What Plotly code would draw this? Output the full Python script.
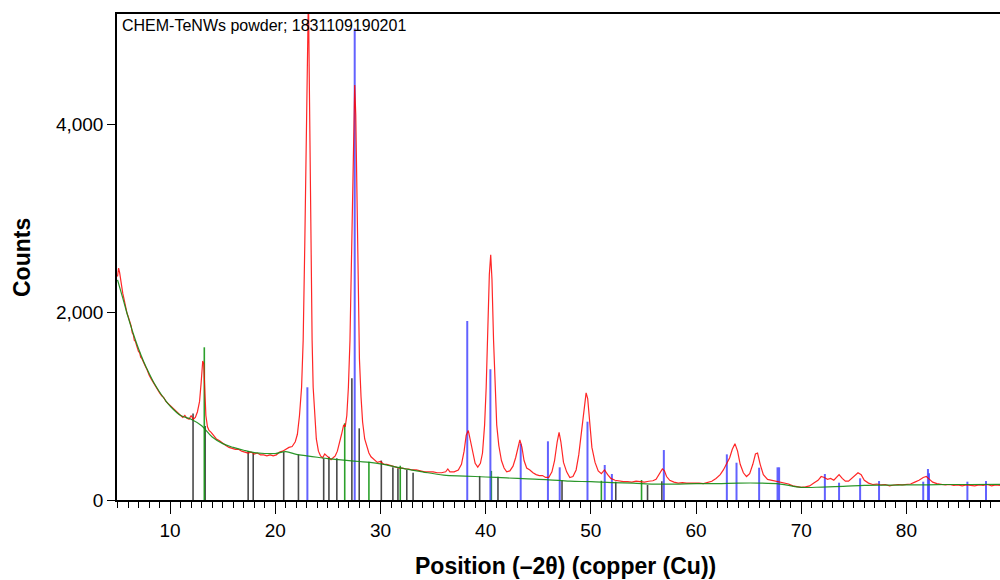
import plotly.graph_objects as go

# ---- measured pattern (red) ----
two_theta = [5.00, 5.10, 5.20, 5.30, 5.40, 5.50, 5.60, 5.70, 5.80, 5.90, 6.00, 6.10, 6.20, 6.30, 6.40, 6.50,
             6.60, 6.70, 6.80, 6.90, 7.00, 7.10, 7.20, 7.30, 7.40, 7.50, 7.60, 7.70, 7.80, 7.90, 8.00, 8.20,
             8.40, 8.60, 8.80, 9.00, 9.20, 9.40, 9.60, 9.80, 10.00, 10.20, 10.40, 10.60, 10.80, 11.00, 11.20,
             11.40, 11.60, 11.80, 12.00, 12.20, 12.40, 12.60, 12.80, 12.95, 13.10, 13.20, 13.30, 13.40, 13.55,
             13.70, 13.90, 14.10, 14.40, 14.70, 15.00, 15.30, 15.60, 15.90, 16.20, 16.50, 16.80, 17.10, 17.40,
             17.70, 18.00, 18.30, 18.60, 18.90, 19.20, 19.50, 19.80, 20.10, 20.40, 20.70, 21.00, 21.30, 21.60,
             21.90, 22.10, 22.30, 22.50, 22.65, 22.80, 22.90, 23.00, 23.08, 23.15, 23.22, 23.30, 23.40, 23.50,
             23.60, 23.75, 23.90, 24.10, 24.30, 24.50, 24.70, 24.90, 25.10, 25.30, 25.50, 25.70, 25.90, 26.10,
             26.30, 26.50, 26.65, 26.80, 26.95, 27.10, 27.25, 27.40, 27.50, 27.55, 27.65, 27.75, 27.85, 28.00,
             28.15, 28.30, 28.50, 28.70, 28.90, 29.10, 29.40, 29.70, 30.00, 30.30, 30.60, 30.90, 31.20, 31.50,
             31.80, 32.10, 32.40, 32.70, 33.00, 33.40, 33.80, 34.20, 34.60, 35.00, 35.40, 35.80, 36.20, 36.40,
             36.60, 37.00, 37.40, 37.70, 37.95, 38.15, 38.35, 38.55, 38.80, 39.00, 39.25, 39.50, 39.70, 39.90,
             40.05, 40.20, 40.35, 40.48, 40.60, 40.75, 40.90, 41.05, 41.25, 41.50, 41.75, 42.00, 42.30, 42.60,
             42.85, 43.05, 43.25, 43.45, 43.65, 43.90, 44.20, 44.50, 44.80, 45.10, 45.40, 45.70, 46.00, 46.30,
             46.55, 46.80, 46.98, 47.15, 47.40, 47.70, 48.00, 48.30, 48.60, 48.85, 49.10, 49.35, 49.55, 49.70,
             49.90, 50.10, 50.40, 50.70, 51.00, 51.30, 51.60, 51.90, 52.30, 52.70, 53.10, 53.50, 53.90, 54.30,
             54.70, 55.10, 55.50, 55.90, 56.20, 56.50, 56.80, 57.00, 57.20, 57.50, 57.90, 58.30, 58.70, 59.10,
             59.50, 59.90, 60.30, 60.70, 61.10, 61.50, 61.90, 62.30, 62.60, 62.90, 63.20, 63.45, 63.70, 63.95,
             64.20, 64.50, 64.80, 65.10, 65.40, 65.65, 65.85, 66.10, 66.40, 66.80, 67.20, 67.60, 68.00, 68.40,
             68.80, 69.20, 69.60, 70.00, 70.40, 70.80, 71.20, 71.60, 71.90, 72.20, 72.50, 72.80, 73.10, 73.40,
             73.60, 73.90, 74.20, 74.50, 74.80, 75.10, 75.40, 75.70, 76.00, 76.40, 76.80, 77.20, 77.60, 78.00,
             78.40, 78.80, 79.20, 79.60, 80.00, 80.40, 80.80, 81.20, 81.60, 81.90, 82.20, 82.50, 82.90, 83.30,
             83.70, 84.10, 84.50, 84.90, 85.30, 85.70, 86.10, 86.50, 86.90, 87.30, 87.70, 88.10, 88.50, 88.90]
counts = [2380, 2470, 2420, 2330, 2260, 2200, 2150, 2090, 2060, 1990, 1960, 1930, 1880, 1850, 1780, 1760,
          1700, 1690, 1650, 1610, 1580, 1570, 1520, 1510, 1480, 1460, 1430, 1410, 1390, 1350, 1330, 1290,
          1250, 1210, 1180, 1140, 1110, 1090, 1050, 1030, 1000, 990, 970, 950, 930, 910, 880,
          900, 870, 860, 900, 860, 880, 940, 1050, 1250, 1480, 1450, 1150, 900, 780,
          740, 720, 690, 650, 630, 600, 580, 560, 550, 540, 540, 520, 510, 500,
          510, 490, 500, 480, 480, 470, 480, 470, 480, 510, 520, 540, 560, 570,
          620, 700, 900, 1200, 1700, 2700, 3700, 4800, 5400, 5400, 4600, 3600, 2400, 1700,
          1200, 850, 650, 520, 470, 450, 490, 470, 450, 430, 450, 470, 520, 600,
          700, 800, 780, 900, 1200, 1700, 2600, 3700, 4300, 4420, 4100, 3200, 2300, 1500,
          1100, 830, 650, 560, 500, 460, 430, 400, 410, 380, 380, 370, 360, 350,
          340, 340, 330, 330, 320, 320, 310, 300, 300, 300, 290, 290, 300, 330,
          300, 300, 320, 380, 520, 690, 740, 640, 480, 390, 350, 390, 500, 800,
          1200, 1800, 2400, 2610, 2350, 1700, 1150, 800, 580, 420, 340, 300, 310, 360,
          450, 560, 640, 560, 420, 340, 320, 290, 270, 260, 260, 240, 240, 300,
          420, 620, 720, 620, 400, 300, 240, 250, 320, 480, 700, 950, 1140, 1080,
          800, 560, 400, 310, 280, 320, 270, 230, 210, 200, 195, 195, 190, 200,
          195, 190, 200, 205, 220, 270, 330, 310, 250, 210, 190, 180, 185, 180,
          180, 185, 180, 175, 185, 200, 230, 270, 320, 390, 450, 540, 600, 520,
          380, 290, 250, 280, 380, 490, 500, 380, 270, 220, 210, 200, 195, 180,
          170, 150, 140, 135, 140, 150, 180, 210, 250, 240, 220, 230, 210, 250,
          270, 230, 200, 200, 230, 260, 290, 270, 210, 180, 165, 170, 160, 165,
          150, 160, 165, 160, 165, 170, 190, 210, 240, 250, 220, 190, 175, 170,
          160, 165, 155, 160, 150, 160, 155, 150, 160, 155, 165, 150, 160, 155]

# ---- fitted background (green line) ----
bg_x = [5.0, 5.5, 6.0, 6.5, 7.0, 7.5, 8.0, 8.5, 9.0, 9.5, 10.0, 11.0, 12.0, 13.0, 14.0, 15.0, 16.0, 17.0,
        18.0, 19.0, 20.0, 21.0, 22.0, 23.0, 24.0, 25.0, 26.0, 27.0, 28.0, 29.0, 30.0, 32.0, 34.0, 36.0,
        38.0, 40.0, 42.0, 44.0, 46.0, 48.0, 50.0, 52.0, 54.0, 56.0, 58.0, 60.0, 62.0, 64.0, 66.0, 68.0,
        70.0, 72.0, 74.0, 76.0, 78.0, 80.0, 82.0, 84.0, 86.0, 88.9]
bg_y = [2343, 2150, 1950, 1770, 1610, 1470, 1350, 1240, 1150, 1070, 1000, 900, 860, 790, 670, 600, 560, 530,
        505, 495, 495, 515, 485, 470, 455, 440, 430, 420, 410, 400, 385, 340, 300, 265,
        255, 245, 235, 225, 215, 200, 195, 185, 180, 170, 170, 175, 175, 180, 180, 170,
        135, 138, 145, 155, 158, 160, 162, 165, 165, 167]

# ---- reference patterns (sticks) ----
te_pos = [23.05, 27.55, 38.25, 40.45, 43.33, 45.92, 47.04, 49.68, 51.32, 52.0, 56.94, 62.93, 63.85,
          66.0, 67.75, 67.9, 72.25, 73.6, 75.6, 77.4, 81.6, 82.05, 82.15, 85.8, 87.57]
te_int = [1200, 5020, 1906, 1392, 600, 625, 348, 834, 373, 277, 532, 486, 397,
          344, 348, 348, 277, 184, 231, 202, 195, 330, 284, 195, 202]

ph2_pos = [12.18, 13.33, 17.42, 17.9, 20.8, 22.2, 24.6, 25.1, 25.85, 27.28, 27.98, 30.08, 31.18, 31.66,
           32.5, 33.1, 39.43, 41.17, 47.26, 52.37, 55.39, 56.75]
ph2_int = [920, 788, 522, 497, 510, 485, 444, 461, 444, 1296, 763, 420, 350, 338,
           320, 291, 256, 248, 213, 195, 160, 200]

ph3_pos = [13.25, 26.6, 28.9, 31.88, 40.54, 51.0, 54.82]
ph3_int = [1626, 817, 408, 365, 310, 205, 213]


def sticks(pos, inten):
    xs, ys = [], []
    for p, h in zip(pos, inten):
        xs += [p, p, None]
        ys += [0, h, None]
    return xs, ys


fig = go.Figure()

sx, sy = sticks(ph2_pos, ph2_int)
fig.add_trace(go.Scatter(x=sx, y=sy, mode="lines", line=dict(color="rgba(40,40,40,0.85)", width=1.6),
                         hoverinfo="skip", showlegend=False))
sx, sy = sticks(ph3_pos, ph3_int)
fig.add_trace(go.Scatter(x=sx, y=sy, mode="lines", line=dict(color="rgba(20,150,20,0.9)", width=1.6),
                         hoverinfo="skip", showlegend=False))
sx, sy = sticks(te_pos, te_int)
fig.add_trace(go.Scatter(x=sx, y=sy, mode="lines", line=dict(color="rgba(70,70,255,0.85)", width=2),
                         hoverinfo="skip", showlegend=False))

fig.add_trace(go.Scatter(x=two_theta, y=counts, mode="lines",
                         line=dict(color="rgba(255,0,0,0.85)", width=1.2), showlegend=False))
fig.add_trace(go.Scatter(x=bg_x, y=bg_y, mode="lines", line_shape="spline",
                         line=dict(color="rgba(20,140,20,0.9)", width=1.2), showlegend=False))

font_family = "Liberation Sans, Arial, sans-serif"

fig.update_layout(
    width=1000, height=580,
    margin=dict(l=117, r=0, t=14, b=80),
    plot_bgcolor="white", paper_bgcolor="white",
    font=dict(family=font_family, color="black"),
    showlegend=False,
    xaxis=dict(range=[4.95, 88.9], showgrid=False, zeroline=False,
               showline=True, linecolor="black", linewidth=1.5, mirror=True,
               ticks="outside", ticklen=12, tickwidth=1.2, tickcolor="black",
               dtick=10, tick0=0, tickfont=dict(size=19),
               minor=dict(dtick=1, tick0=0, ticks="outside", ticklen=6, tickwidth=1, tickcolor="black")),
    yaxis=dict(range=[0, 5175], showgrid=False, zeroline=False,
               showline=True, linecolor="black", linewidth=1.5, mirror=False,
               ticks="outside", ticklen=8, tickwidth=1.2, tickcolor="black",
               tickvals=[0, 2000, 4000], tickformat=",", tickfont=dict(size=19)),
    annotations=[
        dict(text="CHEM-TeNWs powder; 1831109190201", xref="paper", yref="paper", x=0, y=1,
             xanchor="left", yanchor="top", xshift=3, yshift=-1, showarrow=False,
             font=dict(size=16, family=font_family)),
        dict(text="<b>Position (–2θ) (copper (Cu))</b>", xref="paper", yref="paper",
             x=(565 - 117) / 883, y=(500 - 566) / 486, xanchor="center", yanchor="middle",
             showarrow=False, font=dict(size=23, family=font_family)),
        dict(text="<b>Counts</b>", xref="paper", yref="paper", textangle=-90,
             x=(22 - 117) / 883, y=(500 - 258) / 486, xanchor="center", yanchor="middle",
             showarrow=False, font=dict(size=23, family=font_family)),
    ],
)

fig.write_html("out.html", config={"displayModeBar": False},
               post_script="document.body.style.margin='0';document.body.style.overflow='hidden';")
